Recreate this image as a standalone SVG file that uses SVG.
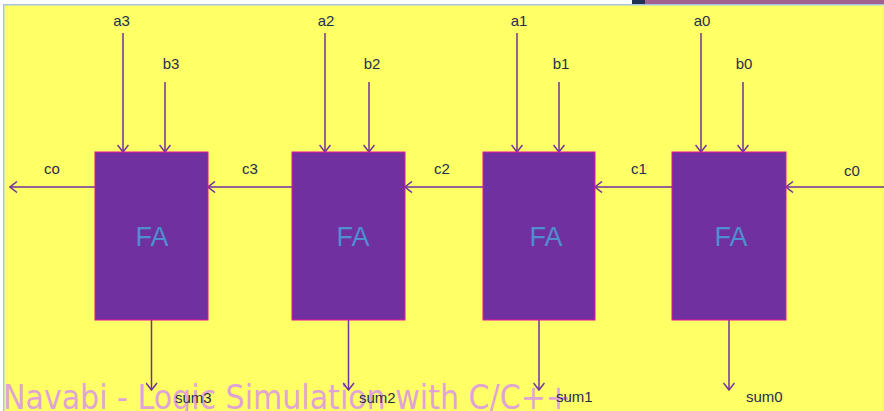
<svg xmlns="http://www.w3.org/2000/svg" width="884" height="411" viewBox="0 0 884 411">
<defs>
<style>
.wire{stroke:#7030A0;stroke-width:1.5;fill:none}
.box{fill:#7030A0;stroke:#E6109C;stroke-width:1}
.lbl{font-family:"Liberation Sans",Arial,sans-serif;font-size:15px;fill:#1F2F4F}
.fa{font-family:"Liberation Sans",Arial,sans-serif;font-size:27px;fill:#4F8FD0;text-anchor:middle}
.wm{font-family:"DejaVu Sans","Liberation Sans",sans-serif;font-size:33px;fill:#E0A4D4}
</style>
<marker id="arr" viewBox="0 0 10 12" refX="9" refY="6" markerWidth="10" markerHeight="12" markerUnits="userSpaceOnUse" orient="auto">
<path d="M2,0.5 L9,6 L2,11.5" fill="none" stroke="#7030A0" stroke-width="1.5"/>
</marker>
</defs>
<rect x="0" y="0" width="884" height="411" fill="#FFFFFF"/>
<rect x="632" y="0" width="13" height="4" fill="#203050"/>
<rect x="645" y="0" width="239" height="4" fill="#A06090"/>
<rect x="3" y="4" width="881" height="407" fill="#A8C4E0"/>
<rect x="4.5" y="5.5" width="878.5" height="405.5" fill="#FFFF66"/>
<rect x="883" y="5" width="1" height="406" fill="#E8E8E8"/>
<text class="wm" x="3" y="409" textLength="568" lengthAdjust="spacingAndGlyphs">Navabi - Logic Simulation with C/C++</text>
<g id="connectors">
<line class="wire" x1="123" y1="33" x2="123" y2="152" marker-end="url(#arr)"/>
<line class="wire" x1="165" y1="82" x2="165" y2="152" marker-end="url(#arr)"/>
<line class="wire" x1="325" y1="33" x2="325" y2="152" marker-end="url(#arr)"/>
<line class="wire" x1="369" y1="82" x2="369" y2="152" marker-end="url(#arr)"/>
<line class="wire" x1="517" y1="33" x2="517" y2="152" marker-end="url(#arr)"/>
<line class="wire" x1="559" y1="82" x2="559" y2="152" marker-end="url(#arr)"/>
<line class="wire" x1="701" y1="33" x2="701" y2="152" marker-end="url(#arr)"/>
<line class="wire" x1="743" y1="82" x2="743" y2="152" marker-end="url(#arr)"/>
<line class="wire" x1="884" y1="187" x2="786" y2="187" marker-end="url(#arr)"/>
<line class="wire" x1="672" y1="187" x2="595" y2="187" marker-end="url(#arr)"/>
<line class="wire" x1="483" y1="187" x2="405" y2="187" marker-end="url(#arr)"/>
<line class="wire" x1="292" y1="187" x2="208" y2="187" marker-end="url(#arr)"/>
<line class="wire" x1="95" y1="187" x2="10" y2="187" marker-end="url(#arr)"/>
<line class="wire" x1="151.5" y1="320" x2="151.5" y2="390" marker-end="url(#arr)"/>
<line class="wire" x1="348.5" y1="320" x2="348.5" y2="390" marker-end="url(#arr)"/>
<line class="wire" x1="539" y1="320" x2="539" y2="390" marker-end="url(#arr)"/>
<line class="wire" x1="729" y1="320" x2="729" y2="390" marker-end="url(#arr)"/>
</g>
<g id="fa3"><rect class="box" x="95" y="152" width="113" height="168"/><text class="fa" x="152" y="246">FA</text></g>
<g id="fa2"><rect class="box" x="292" y="152" width="113" height="168"/><text class="fa" x="353" y="246">FA</text></g>
<g id="fa1"><rect class="box" x="483" y="152" width="112" height="168"/><text class="fa" x="546" y="246">FA</text></g>
<g id="fa0"><rect class="box" x="672" y="152" width="114" height="168"/><text class="fa" x="731" y="246">FA</text></g>
<g id="labels" class="lbl">
<text class="lbl" x="121.5" y="26" text-anchor="middle">a3</text>
<text class="lbl" x="171" y="69" text-anchor="middle">b3</text>
<text class="lbl" x="326" y="26" text-anchor="middle">a2</text>
<text class="lbl" x="372" y="69" text-anchor="middle">b2</text>
<text class="lbl" x="519" y="26" text-anchor="middle">a1</text>
<text class="lbl" x="561" y="69" text-anchor="middle">b1</text>
<text class="lbl" x="702" y="26" text-anchor="middle">a0</text>
<text class="lbl" x="744" y="69" text-anchor="middle">b0</text>
<text class="lbl" x="52" y="174" text-anchor="middle">co</text>
<text class="lbl" x="250" y="174" text-anchor="middle">c3</text>
<text class="lbl" x="442" y="174" text-anchor="middle">c2</text>
<text class="lbl" x="639" y="174" text-anchor="middle">c1</text>
<text class="lbl" x="852" y="176" text-anchor="middle">c0</text>
<text class="lbl" x="175" y="403">sum3</text>
<text class="lbl" x="359" y="403">sum2</text>
<text class="lbl" x="556" y="402">sum1</text>
<text class="lbl" x="746" y="402">sum0</text>
</g>
</svg>
